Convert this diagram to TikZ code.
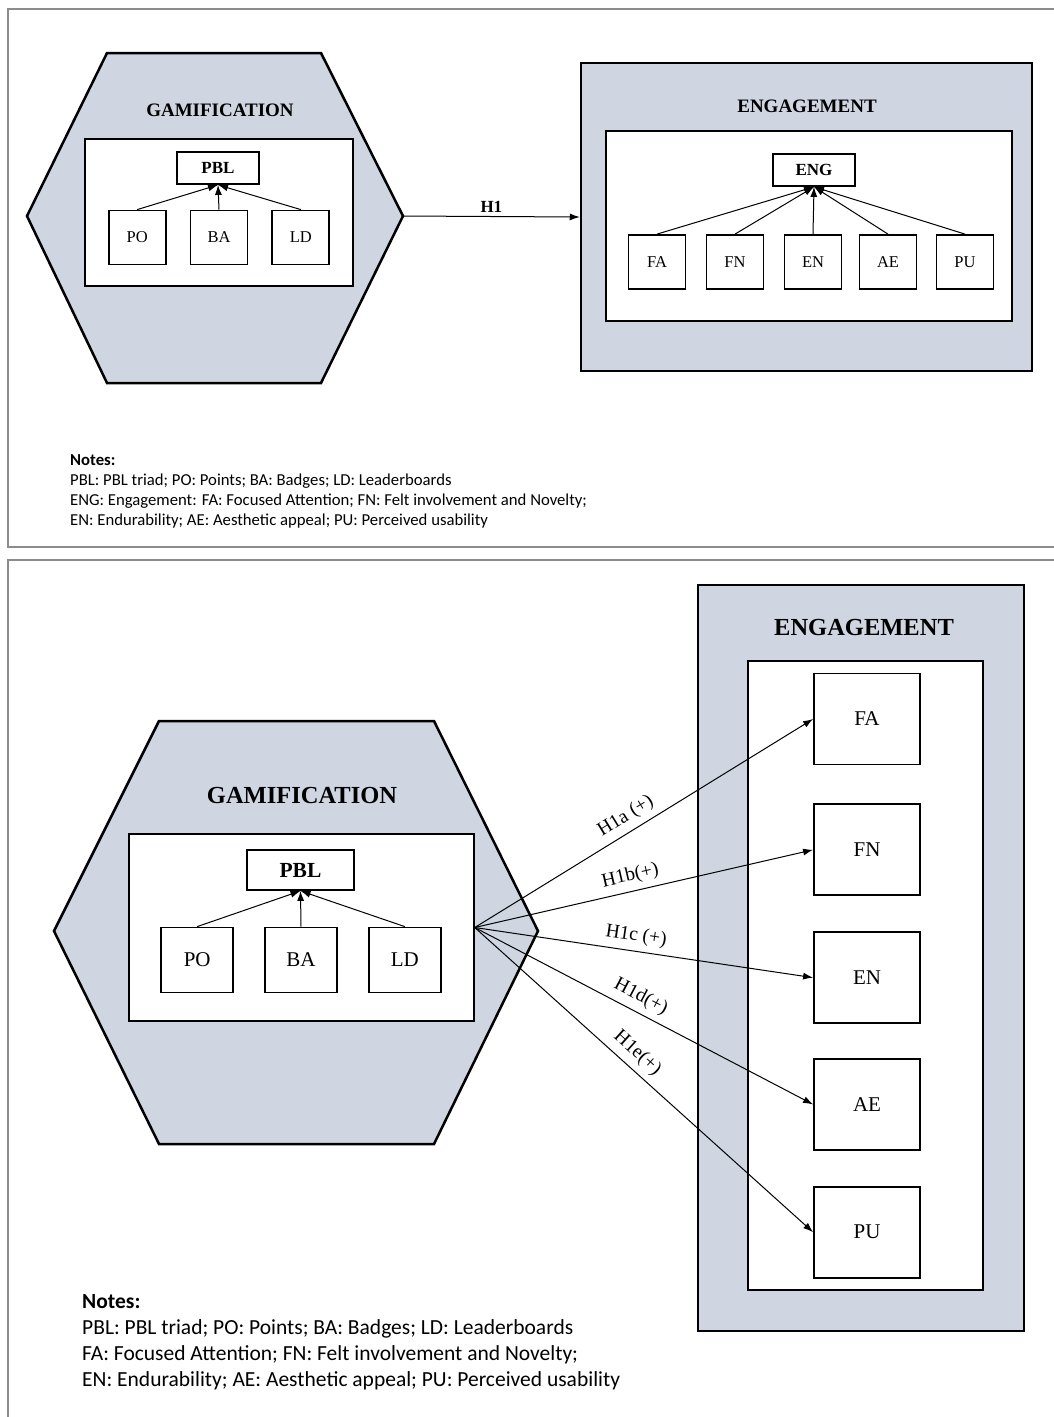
\documentclass[tikz,border=0pt]{standalone}
\usepackage{fontspec}
\setmainfont{Liberation Serif}
\newfontfamily\notesfont{Carlito}
\usepackage{tikz}
\usetikzlibrary{arrows.meta,
                calc,
                positioning}
\definecolor{shade}{RGB}{207,214,225}
\tikzstyle{frame} = [draw=black!45, line width=1.5pt]
\tikzstyle{construct} = [draw=black, line width=2.5pt, fill=shade, inner sep=0pt]
\tikzstyle{inner} = [rectangle, draw=black, line width=1.5pt, fill=white, inner sep=0pt]
\tikzstyle{item} = [rectangle, draw=black, line width=1.8pt, fill=white, inner sep=0pt, text centered]
\tikzstyle{item1} = [item, minimum width=57pt, minimum height=54pt, font=\fontsize{16.5}{18}\selectfont]
\tikzstyle{item2} = [item, minimum width=72pt, minimum height=65pt, font=\fontsize{21}{24}\selectfont]
\tikzstyle{item3} = [item, minimum width=106pt, minimum height=91pt, font=\fontsize{21}{24}\selectfont]
\tikzstyle{head1} = [item, minimum width=82pt, minimum height=32pt, font=\fontsize{17}{19}\selectfont\bfseries]
\tikzstyle{head2} = [item, minimum width=107pt, minimum height=40pt, font=\fontsize{21.5}{24}\selectfont\bfseries]
\tikzstyle{title1} = [font=\fontsize{19}{22}\selectfont\bfseries]
\tikzstyle{title2} = [font=\fontsize{24.5}{28}\selectfont\bfseries]
\tikzstyle{arrow} = [line width=1pt,->,>={Latex[length=10pt,width=7pt]}]
\tikzstyle{hyp} = [sloped, above, pos=0.47, inner sep=6pt, font=\fontsize{19.5}{22}\selectfont]
\tikzstyle{notes} = [anchor=north west, align=left, inner sep=0pt]

\begin{document}
\begin{tikzpicture}[x=1pt, y=-1pt, node distance=20pt]
\useasboundingbox (0,0) rectangle (1054,1417);
% panel frames
\draw[frame] (1054,9) -- (8,9) -- (8,547) -- (1054,547);
\draw[frame] (1054,560) -- (8,560) -- (8,1417);

% ---------- model 1 ----------
\draw[construct] (107,53) -- (321,53) -- (403,216) -- (321,383) -- (107,383) -- (27,216) -- cycle;
\coordinate (hex1) at (403,216);
\node (gam1) [title1] at (220,110) {GAMIFICATION};
\node (inner1) [inner, minimum width=268pt, minimum height=147pt] at (219,212.5) {};
\node (pbl1) [head1] at (218,168) {PBL};
\node (ba1) [item1] at (219,237.5) {BA};
\node (po1) [item1, left=23pt of ba1] {PO};
\node (ld1) [item1, right=23pt of ba1] {LD};
\draw [arrow] (po1.north) -- (pbl1.south);
\draw [arrow] (ba1.north) -- (pbl1.south);
\draw [arrow] (ld1.north) -- (pbl1.south);

\node (eng1) [construct, rectangle, minimum width=451pt, minimum height=308pt] at (806.5,217) {};
\node (engt1) [title1] at (807,106) {ENGAGEMENT};
\node (innerE1) [inner, minimum width=406pt, minimum height=190pt] at (809,226) {};
\node (engh1) [head1] at (814,170) {ENG};
\node (en1) [item1] at (813,262) {EN};
\node (fn1) [item1, left of=en1, node distance=78pt] {FN};
\node (fa1) [item1, left of=fn1, node distance=78pt] {FA};
\node (ae1) [item1, right of=en1, node distance=75pt] {AE};
\node (pu1) [item1, right of=ae1, node distance=77pt] {PU};
\draw [arrow] (fa1.north) -- (engh1.south);
\draw [arrow] (fn1.north) -- (engh1.south);
\draw [arrow] (en1.north) -- (engh1.south);
\draw [arrow] (ae1.north) -- (engh1.south);
\draw [arrow] (pu1.north) -- (engh1.south);

\draw [arrow] (hex1) -- node[above, font=\fontsize{17}{19}\selectfont\bfseries] {H1} (eng1.west);

\node (notes1) [notes, font=\notesfont\fontsize{16.7}{20.3}\selectfont] at (70,454)
  {\textbf{Notes:}\\
   PBL: PBL triad; PO: Points; BA: Badges; LD: Leaderboards\\
   ENG: Engagement: FA: Focused Attention; FN: Felt involvement and Novelty;\\
   EN: Endurability; AE: Aesthetic appeal; PU: Perceived usability};

% ---------- model 2 ----------
\draw[construct] (159,721) -- (434,721) -- (538,931) -- (434,1144) -- (159,1144) -- (54,931) -- cycle;
\node (gam2) [title2] at (302,795) {GAMIFICATION};
\node (inner2) [inner, minimum width=345pt, minimum height=187pt] at (301.5,927.5) {};
\node (pbl2) [head2] at (300.5,870) {PBL};
\node (ba2) [item2] at (301,960) {BA};
\node (po2) [item2, left=30pt of ba2] {PO};
\node (ld2) [item2, right=30pt of ba2] {LD};
\draw [arrow] (po2.north) -- (pbl2.south);
\draw [arrow] (ba2.north) -- (pbl2.south);
\draw [arrow] (ld2.north) -- (pbl2.south);

\node (eng2) [construct, rectangle, minimum width=326pt, minimum height=746pt] at (861,958) {};
\node (engt2) [title2] at (864,627) {ENGAGEMENT};
\node (innerE2) [inner, minimum width=235pt, minimum height=629pt] at (865.5,975.5) {};
\node (fa2) [item3] at (867,719) {FA};
\node (fn2) [item3, below=38pt of fa2] {FN};
\node (en2) [item3, below=35pt of fn2] {EN};
\node (ae2) [item3, below=34pt of en2] {AE};
\node (pu2) [item3, below=35pt of ae2] {PU};
\draw [arrow] (inner2.east) -- node[hyp] {H1a (+)} (fa2.west);
\draw [arrow] (inner2.east) -- node[hyp] {H1b(+)} (fn2.west);
\draw [arrow] (inner2.east) -- node[hyp] {H1c (+)} (en2.west);
\draw [arrow] (inner2.east) -- node[hyp] {H1d(+)} (ae2.west);
\draw [arrow] (inner2.east) -- node[hyp, pos=0.45] {H1e(+)} (pu2.west);

\node (notes2) [notes, font=\notesfont\fontsize{21.5}{26}\selectfont] at (82,1294)
  {\textbf{Notes:}\\
   PBL: PBL triad; PO: Points; BA: Badges; LD: Leaderboards\\
   FA: Focused Attention; FN: Felt involvement and Novelty;\\
   EN: Endurability; AE: Aesthetic appeal; PU: Perceived usability};
\end{tikzpicture}
\end{document}
